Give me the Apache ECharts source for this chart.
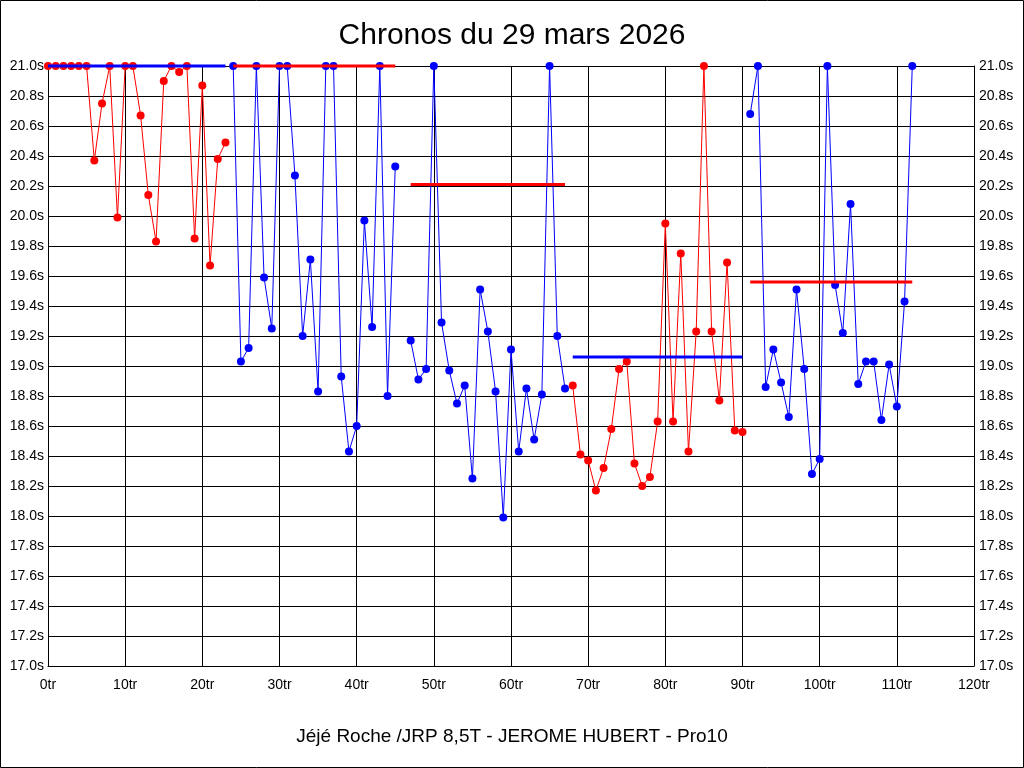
<!DOCTYPE html>
<html><head><meta charset="utf-8">
<script src="https://cdn.jsdelivr.net/npm/echarts@6/dist/echarts.min.js"></script>
<style>html,body{margin:0;padding:0;background:#fff}#c{width:1024px;height:768px}</style>
</head><body><div id="c"></div>
<script>
const chartTitle = 'Chronos du 29 mars 2026';
const chartSubtitle = 'Jéjé Roche /JRP 8,5T - JEROME HUBERT - Pro10';

// lap time segments (seconds), first lap number of each segment
const seg1Start = 0;
const seg1Times = [21.0,21.0,21.0,21.0,21.0,21.0,20.37,20.75,21.0,19.99,21.0,21.0,20.67,20.14,19.83,20.9,21.0,20.96,21.0,19.85,20.87,19.67,20.38,20.49];
const seg2Start = 24;
const seg2Times = [21.0,19.03,19.12,21.0,19.59,19.25,21.0,21.0,20.27,19.2,19.71,18.83,21.0,21.0,18.93,18.43,18.6,19.97,19.26,21.0,18.8,20.33];
const seg3Start = 47;
const seg3Times = [19.17,18.91,18.98,21.0,19.29,18.97,18.75,18.87,18.25,19.51,19.23,18.83,17.99,19.11,18.43,18.85,18.51,18.81,21.0,19.2,18.85];
const seg4Start = 68;
const seg4Times = [18.87,18.41,18.37,18.17,18.32,18.58,18.98,19.03,18.35,18.2,18.26,18.63,19.95,18.63,19.75,18.43,19.23,21.0,19.23,18.77,19.69,18.57,18.56];
const seg5Start = 91;
const seg5Times = [20.68,21.0,18.86,19.11,18.89,18.66,19.51,18.98,18.28,18.38,21.0,19.54,19.22,20.08,18.88,19.03,19.03,18.64,19.01,18.73,19.43,21.0];

// segment average lines (clipped at 21.0s)
const segAverages = [21.0, 21.0, 20.21, 19.06, 19.56];
const segColors = ['#ff0000','#0000ff','#0000ff','#ff0000','#0000ff'];
const avgColors = ['#0000ff','#ff0000','#ff0000','#0000ff','#ff0000'];

const segStarts = [seg1Start, seg2Start, seg3Start, seg4Start, seg5Start];
const segTimes = [seg1Times, seg2Times, seg3Times, seg4Times, seg5Times];

const FONT = 'Liberation Sans, Arial, sans-serif';
const series = [];
segTimes.forEach((times, s) => {
  const start = segStarts[s];
  series.push({
    type: 'line', xAxisIndex: 0, yAxisIndex: 0,
    data: times.map((t, i) => [start + i, t]),
    symbol: 'circle', symbolSize: 8, showSymbol: true,
    lineStyle: {color: segColors[s], width: 1},
    itemStyle: {color: segColors[s]},
    clip: false, z: 2, silent: true
  });
});
segTimes.forEach((times, s) => {
  const start = segStarts[s];
  const end = start + times.length - 1;
  series.push({
    type: 'line', xAxisIndex: 0, yAxisIndex: 0,
    data: [[start, segAverages[s]], [end, segAverages[s]]],
    showSymbol: false, symbol: 'none',
    lineStyle: {color: avgColors[s], width: 3},
    clip: false, z: 4, silent: true
  });
});

const chart = echarts.init(document.getElementById('c'), null, {renderer: 'canvas'});
chart.setOption({
  animation: false,
  backgroundColor: '#ffffff',
  title: [
    {text: chartTitle, left: 'center', top: 16, textStyle: {fontFamily: FONT, fontSize: 30, fontWeight: 'normal', color: '#000'}},
    {text: chartSubtitle, left: 'center', top: 722, textStyle: {fontFamily: FONT, fontSize: 19, fontWeight: 'normal', color: '#000'}}
  ],
  graphic: [{type: 'rect', shape: {x: 0.5, y: 0.5, width: 1023, height: 767}, style: {fill: 'none', stroke: '#000', lineWidth: 1}, silent: true}],
  grid: {left: 48, right: 50, top: 66, bottom: 102, containLabel: false},
  xAxis: {
    type: 'value', min: 0, max: 120, interval: 10,
    axisLine: {show: true, lineStyle: {color: '#000', width: 1}},
    axisTick: {show: false},
    axisLabel: {formatter: '{value}tr', color: '#000', fontFamily: FONT, fontSize: 14, margin: 12},
    splitLine: {show: true, lineStyle: {color: '#000', width: 1}}
  },
  yAxis: [
    {
      type: 'value', min: 17, max: 21, interval: 0.2, position: 'left',
      axisLine: {show: true, lineStyle: {color: '#000', width: 1}},
      axisTick: {show: false},
      axisLabel: {formatter: v => v.toFixed(1) + 's', color: '#000', fontFamily: FONT, fontSize: 14, margin: 4},
      splitLine: {show: true, lineStyle: {color: '#000', width: 1}}
    },
    {
      type: 'value', min: 17, max: 21, interval: 0.2, position: 'right',
      axisLine: {show: true, lineStyle: {color: '#000', width: 1}},
      axisTick: {show: false},
      axisLabel: {formatter: v => v.toFixed(1) + 's', color: '#000', fontFamily: FONT, fontSize: 14, margin: 5},
      splitLine: {show: false}
    }
  ],
  series: series
});
</script>
</body></html>
